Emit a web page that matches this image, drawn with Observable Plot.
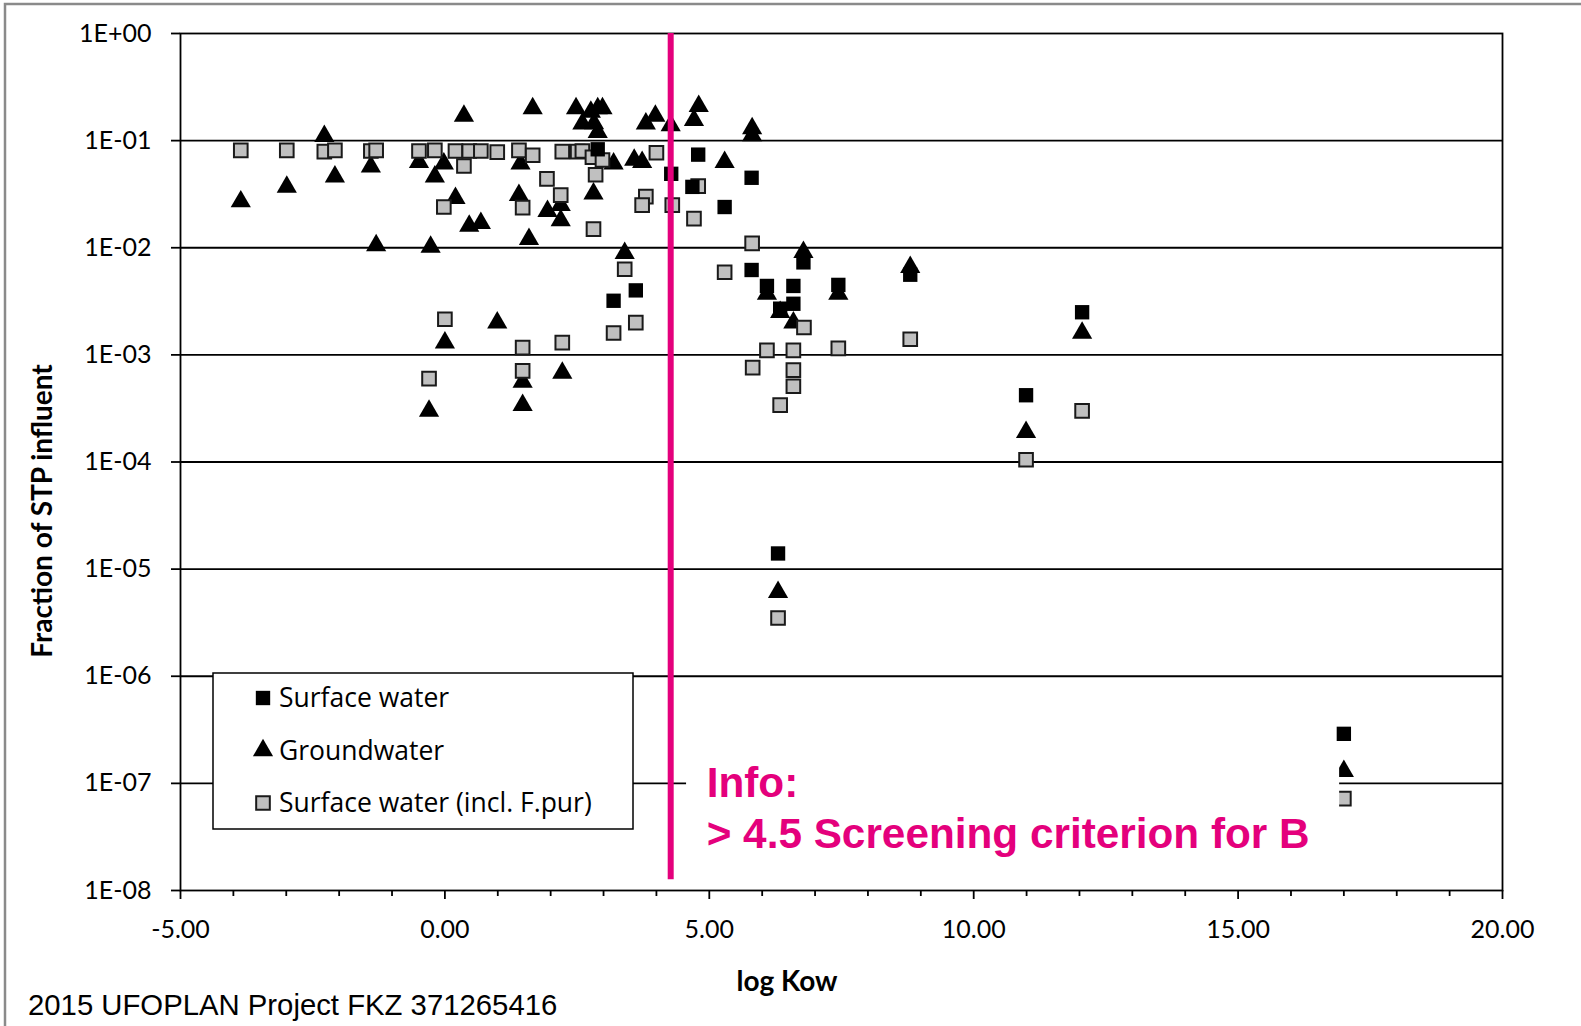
<!DOCTYPE html>
<html>
<head>
<meta charset="utf-8">
<script src="https://cdn.jsdelivr.net/npm/d3@7"></script>
<script src="https://cdn.jsdelivr.net/npm/@observablehq/plot@0.6"></script>
<style>
  html, body { margin: 0; padding: 0; background: white; }
  #chart { width: 1581px; height: 1026px; }
</style>
</head>
<body>
<div id="chart"></div>
<script>
// ---- Data (log Kow, fraction of STP influent) ----
const surfaceWater = [
  [2.89, 0.083], [3.19, 0.0032], [3.61, 0.0040], [4.28, 0.049], [4.68, 0.037],
  [4.79, 0.074], [5.29, 0.024], [5.80, 0.045], [5.80, 0.0062], [6.09, 0.0044],
  [6.34, 0.0027], [6.59, 0.0044], [6.59, 0.0030], [6.78, 0.0073], [7.44, 0.0045],
  [8.80, 0.0056], [12.05, 0.0025], [10.99, 0.00042], [6.30, 1.4e-5], [17.0, 2.9e-7]
];
const groundwater = [
  [-3.86, 0.027], [-2.99, 0.037], [-2.28, 0.11], [-2.08, 0.046], [-1.40, 0.057],
  [-1.30, 0.0105], [-0.49, 0.063], [-0.27, 0.0102], [-0.19, 0.046], [-0.02, 0.061],
  [0.20, 0.029], [0.36, 0.17], [0.46, 0.016], [0.68, 0.017], [0.00, 0.0013],
  [-0.30, 0.00030], [0.99, 0.0020], [1.47, 0.00056], [1.47, 0.00034], [2.22, 0.00068],
  [1.43, 0.061], [1.40, 0.031], [1.59, 0.012], [1.66, 0.20], [1.94, 0.022],
  [2.19, 0.025], [2.19, 0.018], [2.48, 0.20], [2.60, 0.144], [2.76, 0.185],
  [2.81, 0.032], [2.82, 0.145], [2.89, 0.20], [2.89, 0.12], [2.98, 0.20],
  [3.19, 0.061], [3.40, 0.0089], [3.58, 0.066], [3.73, 0.063], [3.80, 0.144],
  [3.98, 0.17], [4.27, 0.139], [4.71, 0.155], [4.80, 0.21], [5.29, 0.063],
  [5.81, 0.13], [5.81, 0.112], [6.09, 0.0037], [6.34, 0.0025], [6.59, 0.0020],
  [6.78, 0.0091], [7.44, 0.0037], [8.80, 0.0066], [12.05, 0.0016], [10.99, 0.00019],
  [6.30, 6.1e-6], [17.0, 1.3e-7]
];
const surfaceWaterFpur = [
  [-3.86, 0.081], [-2.99, 0.081], [-2.28, 0.079], [-2.08, 0.081], [-1.40, 0.080],
  [-1.30, 0.081], [-0.49, 0.080], [-0.19, 0.081], [0.20, 0.080], [0.46, 0.080],
  [0.68, 0.080], [0.99, 0.078], [0.36, 0.058], [-0.02, 0.024], [0.00, 0.00215],
  [-0.30, 0.0006], [1.47, 0.00117], [1.47, 0.00071], [2.22, 0.0013], [3.19, 0.0016],
  [3.61, 0.0020], [3.40, 0.0063], [1.40, 0.081], [1.66, 0.073], [2.22, 0.079],
  [2.51, 0.079], [2.60, 0.080], [2.79, 0.070], [2.98, 0.066], [2.85, 0.048],
  [1.93, 0.044], [2.19, 0.031], [1.47, 0.0237], [2.81, 0.0149], [4.00, 0.077],
  [3.80, 0.030], [3.73, 0.025], [4.30, 0.025], [4.79, 0.0376], [4.71, 0.0187],
  [5.81, 0.011], [5.29, 0.0059], [6.79, 0.0018], [6.09, 0.0011], [6.59, 0.0011],
  [7.44, 0.00115], [8.80, 0.0014], [5.82, 0.00076], [6.59, 0.00072], [6.59, 0.00051],
  [6.34, 0.00034], [12.05, 0.0003], [10.99, 0.000105], [6.30, 3.5e-6], [17.0, 7.2e-8]
];

const seriesNames = ["Surface water", "Groundwater", "Surface water (incl. F.pur)"];
const xMajorTicks = [-5, 0, 5, 10, 15, 20];
const xMinorTicks = d3.range(-5, 21, 1).filter(d => d % 5 !== 0);
const yDecades = [1e-8, 1e-7, 1e-6, 1e-5, 1e-4, 1e-3, 1e-2, 1e-1, 1];
const yGrid = [1e-7, 1e-6, 1e-5, 1e-4, 1e-3, 1e-2, 1e-1];
const criterionX = [4.27];
const criterionYEnd = 10 ** -7.9;
const infoLines = [
  {text: "Info:", x: 4.95, y: 10 ** -7.13},
  {text: "> 4.5 Screening criterion for B", x: 4.95, y: 10 ** -7.60}
];
const infoBox = [{x1: 4.57, x2: 16.92, y1: 10 ** -6.69, y2: 10 ** -7.81}];
const captionText = "2015 UFOPLAN Project FKZ 371265416";
const xTitle = "log Kow";
const yTitle = "Fraction of STP influent";

const MAGENTA = "#e4007c";
const R_TRI = 7.5, R_GRAY = 7.7, R_BLACK = 8.1;
const fmtY = d => {
  const e = Math.round(Math.log10(d));
  return "1E" + (e < 0 ? "-" : "+") + String(Math.abs(e)).padStart(2, "0");
};

const svg = Plot.plot({
  width: 1581,
  height: 1026,
  marginTop: 33,
  marginRight: 79,
  marginBottom: 136,
  marginLeft: 180,
  style: {fontFamily: "Lato", fontSize: "25px", color: "black", background: "white"},
  x: {domain: [-5, 20]},
  y: {type: "log", domain: [1e-8, 1]},
  marks: [
    Plot.ruleY(yGrid, {stroke: "black", strokeWidth: 1.8}),
    Plot.frame({stroke: "black", strokeWidth: 1.8}),
    Plot.axisY({ticks: yDecades, tickFormat: fmtY, tickSize: 9, tickPadding: 20, label: null, strokeWidth: 1.8}),
    Plot.axisX({ticks: xMajorTicks, tickFormat: d => d.toFixed(2), tickSize: 9, tickPadding: 21, label: null, strokeWidth: 1.8}),
    Plot.axisX({ticks: xMinorTicks, tickFormat: () => "", tickSize: 6, label: null, strokeWidth: 1.8}),
    Plot.dot(groundwater, {x: d => d[0], y: d => d[1], symbol: "triangle", r: R_TRI, fill: "black", stroke: "none"}),
    Plot.dot(surfaceWaterFpur, {x: d => d[0], y: d => d[1], symbol: "square", r: R_GRAY, fill: "#c0c0c0", stroke: "#1a1a1a", strokeWidth: 2}),
    Plot.dot(surfaceWater, {x: d => d[0], y: d => d[1], symbol: "square", r: R_BLACK, fill: "black", stroke: "none"}),
    Plot.rect(infoBox, {x1: "x1", x2: "x2", y1: "y1", y2: "y2", fill: "white"}),
    Plot.ruleX(criterionX, {y1: 1, y2: criterionYEnd, stroke: MAGENTA, strokeWidth: 6}),
    Plot.text(infoLines, {x: "x", y: "y", text: "text", textAnchor: "start", lineAnchor: "bottom",
      fill: MAGENTA, fontSize: 42.3, fontWeight: "bold", fontFamily: "Liberation Sans"})
  ]
});

document.getElementById("chart").appendChild(svg);

const s = d3.select(svg);

// page border
s.append("rect").attr("x", 5).attr("y", 4).attr("width", 1700).attr("height", 1200)
  .attr("fill", "none").attr("stroke", "#8a8a8a").attr("stroke-width", 2.5);

// legend
const lg = s.append("g").attr("text-anchor", "start");
lg.append("rect").attr("x", 213).attr("y", 673).attr("width", 420).attr("height", 156)
  .attr("fill", "white").attr("stroke", "black").attr("stroke-width", 1.5);
const legendItems = [
  {name: seriesNames[0], sym: d3.symbolSquare, r: R_BLACK, fill: "black", stroke: "none"},
  {name: seriesNames[1], sym: d3.symbolTriangle, r: R_TRI, fill: "black", stroke: "none"},
  {name: seriesNames[2], sym: d3.symbolSquare, r: R_GRAY, fill: "#c0c0c0", stroke: "#1a1a1a"}
];
legendItems.forEach((it, i) => {
  const cy = 698 + i * 52.5;
  lg.append("path").attr("d", d3.symbol(it.sym, Math.PI * it.r * it.r)())
    .attr("transform", `translate(263,${cy})`)
    .attr("fill", it.fill).attr("stroke", it.stroke).attr("stroke-width", 2);
  lg.append("text").attr("x", 279).attr("y", cy).attr("dy", "0.35em")
    .attr("text-anchor", "start")
    .attr("font-family", "Open Sans").attr("font-size", 26.5).attr("fill", "black").text(it.name);
});

// axis titles
s.append("text").attr("transform", "translate(42,511) rotate(-90)")
  .attr("text-anchor", "middle").attr("dy", "0.35em")
  .attr("font-family", "Lato").attr("font-weight", "bold").attr("font-size", 28).text(yTitle);
s.append("text").attr("x", 787).attr("y", 981).attr("dy", "0.35em")
  .attr("text-anchor", "middle")
  .attr("font-family", "Lato").attr("font-weight", "bold").attr("font-size", 28).text(xTitle);

// caption
s.append("text").attr("x", 28).attr("y", 1015).attr("text-anchor", "start")
  .attr("font-family", "Liberation Sans, Arial, sans-serif").attr("font-size", 29.3).attr("fill", "black")
  .text(captionText);
</script>
</body>
</html>
